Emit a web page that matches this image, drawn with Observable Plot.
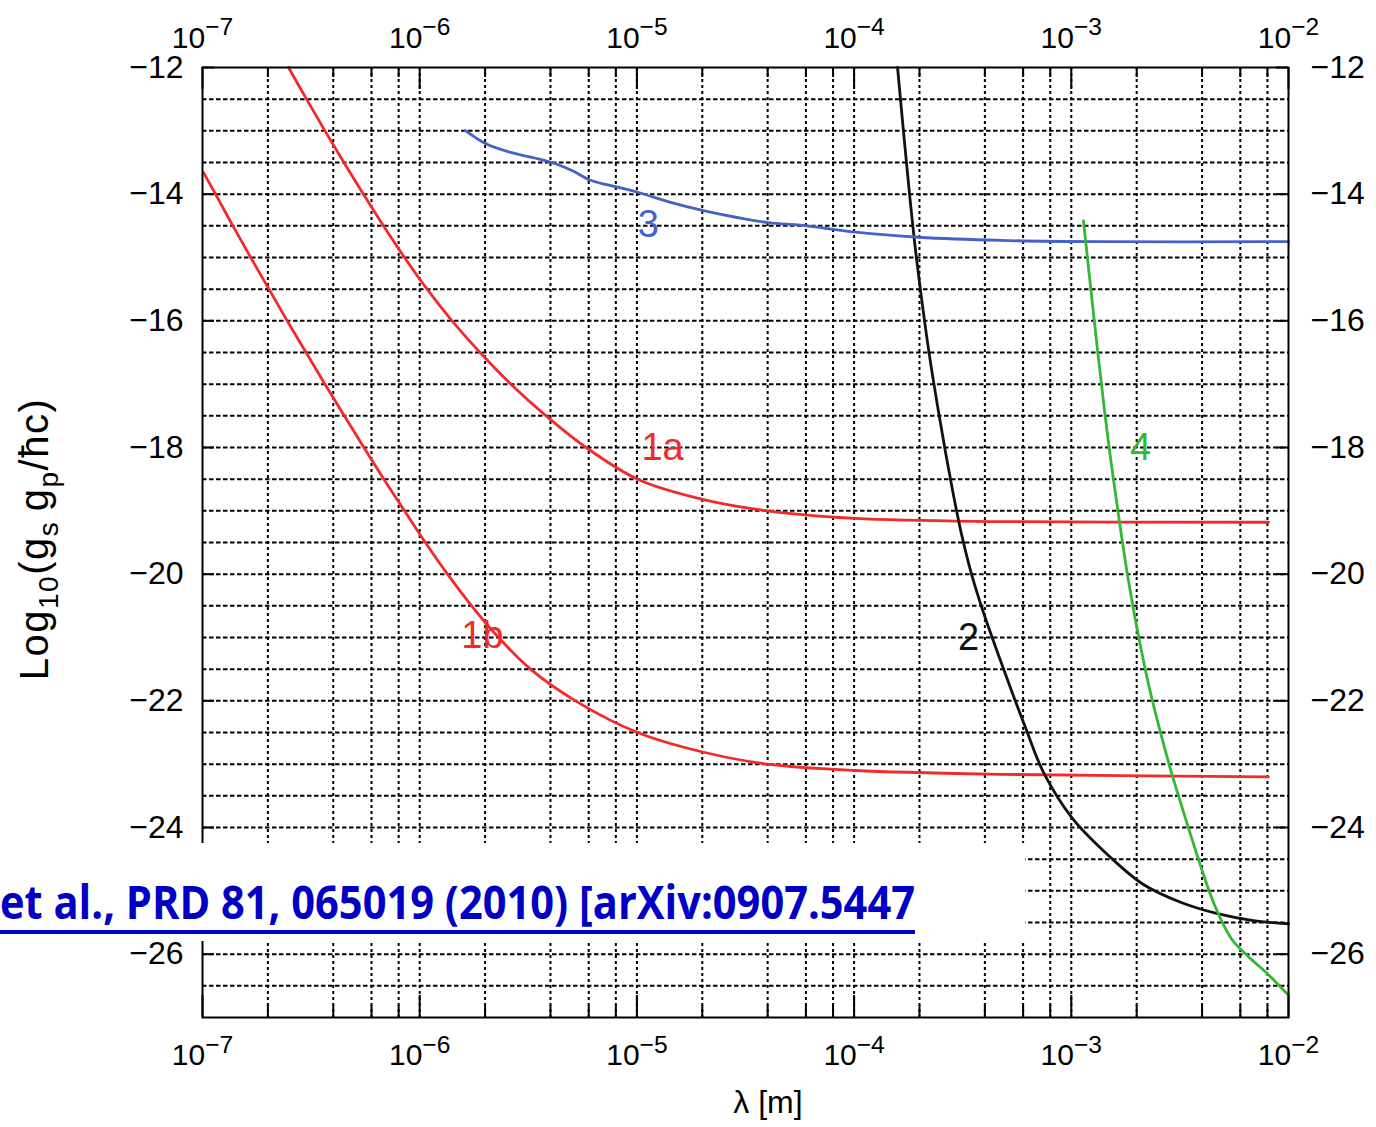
<!DOCTYPE html>
<html>
<head>
<meta charset="utf-8">
<script src="https://cdn.jsdelivr.net/npm/d3@7"></script>
<script src="https://cdn.jsdelivr.net/npm/@observablehq/plot@0.6"></script>
<style>
  body { margin: 0; background: #fff; }
  #chart svg { display: block; }
</style>
</head>
<body>
<div id="chart"></div>
<script>
// Exclusion curves: log10(λ / m) and log10(g_s g_p / ħc)
const curve1aLogLambda = [-6.604, -6.521, -6.436, -6.349, -6.259, -6.167, -6.070, -5.966, -5.851, -5.722, -5.580, -5.418, -5.234, -4.997, -4.707, -4.399, -3.994, -3.326, -2.092];
const curve1aLogG      = [-12.00, -12.50, -13.00, -13.50, -14.00, -14.50, -15.00, -15.50, -16.00, -16.50, -17.00, -17.50, -18.00, -18.50, -18.81, -19.00, -19.12, -19.17, -19.18];

const curve1bLogLambda = [-6.995, -6.940, -6.860, -6.778, -6.694, -6.610, -6.523, -6.436, -6.347, -6.257, -6.165, -6.070, -5.974, -5.872, -5.761, -5.637, -5.490, -5.283, -4.997, -4.707, -4.399, -3.994, -3.326, -2.092];
const curve1bLogG      = [-13.66, -14.00, -14.50, -15.00, -15.50, -16.00, -16.50, -17.00, -17.50, -18.00, -18.50, -19.00, -19.50, -20.00, -20.50, -21.00, -21.50, -22.00, -22.50, -22.80, -23.00, -23.10, -23.16, -23.20];

const curve2LogLambda = [-3.800, -3.773, -3.745, -3.717, -3.685, -3.653, -3.616, -3.579, -3.542, -3.506, -3.460, -3.404, -3.335, -3.271, -3.211, -3.128, -2.994, -2.820, -2.668, -2.497, -2.327, -2.161, -2.000];
const curve2LogG      = [-12.00, -12.995, -13.99, -14.89, -15.76, -16.55, -17.34, -18.08, -18.76, -19.36, -19.99, -20.61, -21.28, -21.88, -22.42, -23.13, -23.86, -24.47, -24.90, -25.18, -25.36, -25.47, -25.52];

const curve3LogLambda = [-5.789, -5.697, -5.582, -5.444, -5.375, -5.297, -5.214, -5.089, -4.997, -4.845, -4.693, -4.394, -4.247, -3.994, -3.703, -3.326, -2.866, -2.000];
const curve3LogG      = [-12.995, -13.20, -13.34, -13.45, -13.52, -13.63, -13.78, -13.89, -13.97, -14.13, -14.26, -14.45, -14.49, -14.60, -14.68, -14.73, -14.75, -14.75];

const curve4LogLambda = [-2.944, -2.912, -2.879, -2.847, -2.815, -2.778, -2.737, -2.691, -2.645, -2.594, -2.539, -2.474, -2.410, -2.341, -2.262, -2.184, -2.097, -2.000];
const curve4LogG      = [-14.42, -15.44, -16.47, -17.42, -18.28, -19.18, -20.10, -20.97, -21.73, -22.44, -23.13, -23.86, -24.55, -25.22, -25.76, -26.04, -26.31, -26.65];

// Curve names, colours and where their numbers sit
const curveNames   = ["1a", "1b", "2", "3", "4"];
const curveColors  = ["#f32a2a", "#f32a2a", "#111111", "#4562c6", "#33b833"];
const labelLogLambda = [-4.882, -5.711, -3.473, -4.947, -2.681];
const labelLogG      = [-18.00, -20.98, -21.00, -14.49, -18.00];

// Axis ticks
const xTickExponents = [-7, -6, -5, -4, -3, -2];
const yTickValues = [-12, -14, -16, -18, -20, -22, -24, -26];

const citationText = "et al., PRD 81, 065019 (2010) [arXiv:0907.5447";

// ---- build tables ----
const curveSeries = [
  [curve1aLogLambda, curve1aLogG],
  [curve1bLogLambda, curve1bLogG],
  [curve2LogLambda, curve2LogG],
  [curve3LogLambda, curve3LogG],
  [curve4LogLambda, curve4LogG]
];
const rows = curveSeries.map(([ls, gs], i) =>
  ls.map((l, j) => ({series: curveNames[i], lambda: Math.pow(10, l), g: gs[j]})));
const labels = curveNames.map((n, i) => ({
  name: n, lambda: Math.pow(10, labelLogLambda[i]), g: labelLogG[i], color: curveColors[i]
}));

const majorX = xTickExponents.map(e => Math.pow(10, e));
const minorX = [];
for (const e of xTickExponents.slice(0, -1)) for (const m of [2, 4, 6, 8]) minorX.push(m * Math.pow(10, e));
const gridX = [...minorX, ...majorX.slice(1, -1)];
const gridY = d3.range(-26.5, -12.01, 0.5);

const W = 1376, H = 1127;
const mL = 202, mR = 88, mT = 67, mB = 110;
const fW = W - mL - mR, fH = H - mT - mB;

const minus = d => (d < 0 ? "\u2212" : "") + Math.abs(d);
const powerLabel = d => "10^" + Math.round(Math.log10(d));

const plot = Plot.plot({
  width: W,
  height: H,
  marginLeft: mL,
  marginRight: mR,
  marginTop: mT,
  marginBottom: mB,
  style: {fontFamily: "'Liberation Sans', Arial, sans-serif", background: "#fff", color: "#000"},
  x: {type: "log", domain: [1e-7, 1e-2], label: null},
  y: {domain: [-27, -12], label: null},
  marks: [
    // dashed grid
    Plot.ruleX(gridX, {stroke: "#000", strokeWidth: 2, strokeDasharray: "3,3"}),
    Plot.ruleY(gridY, {stroke: "#000", strokeWidth: 2, strokeDasharray: "4.5,2.5"}),
    // inward ticks on all four sides
    Plot.tickX(majorX, {x: d => d, insetBottom: fH - 22, stroke: "#000", strokeWidth: 2}),
    Plot.tickX(majorX, {x: d => d, insetTop: fH - 22, stroke: "#000", strokeWidth: 2}),
    Plot.tickX(minorX, {x: d => d, insetBottom: fH - 10, stroke: "#000", strokeWidth: 2}),
    Plot.tickX(minorX, {x: d => d, insetTop: fH - 12, stroke: "#000", strokeWidth: 2}),
    Plot.tickY(yTickValues, {y: d => d, insetRight: fW - 12, stroke: "#000", strokeWidth: 2}),
    Plot.tickY(yTickValues, {y: d => d, insetLeft: fW - 12, stroke: "#000", strokeWidth: 2}),
    // curves
    ...curveNames.map((n, i) => Plot.line(rows[i], {
      x: "lambda", y: "g", stroke: curveColors[i], strokeWidth: 2.8, curve: "catmull-rom"
    })),
    // curve numbers
    Plot.text(labels, {x: "lambda", y: "g", text: "name", fill: "color", fontSize: 38}),
    Plot.frame({stroke: "#000", strokeWidth: 2}),
    // axes
    Plot.axisX(majorX, {anchor: "top", tickSize: 0, tickPadding: 20, fontSize: 30, label: null, tickFormat: powerLabel}),
    Plot.axisX(majorX, {anchor: "bottom", tickSize: 0, tickPadding: 26, fontSize: 30, label: null, tickFormat: powerLabel}),
    Plot.axisY(yTickValues, {anchor: "left", tickSize: 0, tickPadding: 19, fontSize: 32, label: null, tickFormat: minus}),
    Plot.axisY(yTickValues, {anchor: "right", tickSize: 0, tickPadding: 22, fontSize: 32, label: null, tickFormat: minus})
  ]
});

document.getElementById("chart").appendChild(plot);
const svg = d3.select(plot);

// Powers of ten with raised exponents
svg.selectAll('g[aria-label="x-axis tick label"] text').each(function () {
  const t = d3.select(this);
  const s = t.text();
  if (!s.includes("^")) return;
  const [base, exp] = s.split("^");
  const n = +exp;
  t.text(base);
  t.append("tspan")
    .attr("dy", "-0.5em")
    .attr("font-size", "0.82em")
    .text((n < 0 ? "\u2212" : "") + Math.abs(n));
});

// Y title with subscripts
const yTitle = svg.append("text")
  .attr("transform", "translate(48,539) rotate(-90)")
  .attr("text-anchor", "middle")
  .attr("font-size", 40)
  .attr("letter-spacing", 1.5)
  .attr("fill", "#000");
const sub = 28;
yTitle.append("tspan").text("Log");
yTitle.append("tspan").attr("font-size", sub).attr("dy", 10).text("10");
yTitle.append("tspan").attr("dy", -10).text("(g");
yTitle.append("tspan").attr("font-size", sub).attr("dy", 10).text("s");
yTitle.append("tspan").attr("dy", -10).text("\u2009g");
yTitle.append("tspan").attr("font-size", sub).attr("dy", 10).text("p");
yTitle.append("tspan").attr("dy", -10).text("/\u0127c)");

// X title
svg.append("text")
  .attr("x", 768).attr("y", 1113)
  .attr("text-anchor", "middle")
  .attr("font-size", 32)
  .attr("fill", "#000")
  .text("\u03bb [m]");

// Reference banner across the lower part of the frame
svg.append("rect")
  .attr("x", 0).attr("y", 843).attr("width", 1025).attr("height", 98)
  .attr("fill", "#fff");
svg.append("text")
  .attr("x", 0).attr("y", 919)
  .attr("text-anchor", "start")
  .attr("font-family", "'Open Sans', 'Liberation Sans Narrow', sans-serif")
  .attr("font-weight", "bold")
  .attr("font-size", 46)
  .attr("fill", "#0000c4")
  .attr("textLength", 915)
  .attr("lengthAdjust", "spacingAndGlyphs")
  .text(citationText);
svg.append("rect")
  .attr("x", 0).attr("y", 930).attr("width", 915).attr("height", 4)
  .attr("fill", "#0000c4");
</script>
</body>
</html>
